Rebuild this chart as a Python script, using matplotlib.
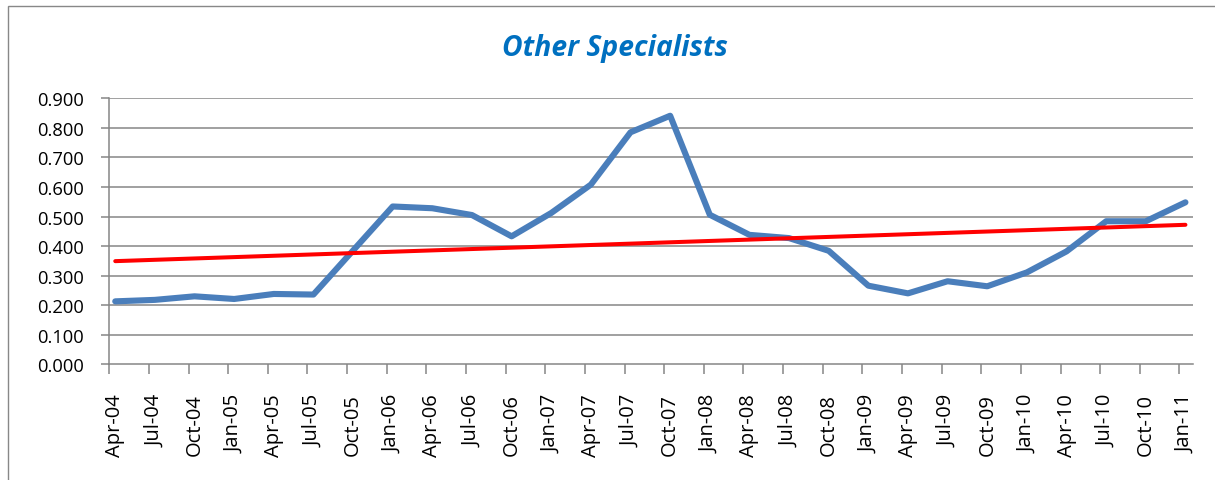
import matplotlib
matplotlib.use("Agg")
import matplotlib.pyplot as plt
from matplotlib.patches import Rectangle
import numpy as np

title = "Other Specialists"
categories = ["Apr-04", "Jul-04", "Oct-04", "Jan-05", "Apr-05", "Jul-05", "Oct-05",
              "Jan-06", "Apr-06", "Jul-06", "Oct-06", "Jan-07", "Apr-07", "Jul-07",
              "Oct-07", "Jan-08", "Apr-08", "Jul-08", "Oct-08", "Jan-09", "Apr-09",
              "Jul-09", "Oct-09", "Jan-10", "Apr-10", "Jul-10", "Oct-10", "Jan-11"]
values = [0.213, 0.218, 0.230, 0.221, 0.238, 0.236, 0.385,
          0.534, 0.528, 0.505, 0.433, 0.512, 0.608, 0.785,
          0.841, 0.506, 0.438, 0.427, 0.384, 0.266, 0.240,
          0.281, 0.264, 0.311, 0.382, 0.484, 0.484, 0.548]
trend_start = 0.349
trend_end = 0.472
y_ticks = [0.0, 0.1, 0.2, 0.3, 0.4, 0.5, 0.6, 0.7, 0.8, 0.9]

FONT = "Open Sans"
W, H = 1215, 481
fig = plt.figure(figsize=(W / 100, H / 100), dpi=100)
fig.patch.set_facecolor("white")

# chart border
fig.patches.append(Rectangle((8 / W, -0.05), 1.2, 1 - 6.5 / H + 0.05,
                             transform=fig.transFigure, fill=False,
                             edgecolor="#888888", linewidth=1.0))

ax = fig.add_axes([109.3 / W, 1 - 365.3 / H, (1192.7 - 109.3) / W, (365.3 - 99.3) / H])

x = np.arange(len(categories))
grid_c = "#868686"
off = 0.15

for yv in y_ticks[1:]:
    ax.axhline(yv, color=grid_c, linewidth=1.1, zorder=1)

ax.plot(x, values, color="#4A7EBB", linewidth=4.4, solid_capstyle="round",
        solid_joinstyle="round", zorder=3)
ax.plot([x[0], x[-1]], [trend_start, trend_end], color="#FF0000", linewidth=2.9,
        solid_capstyle="round", zorder=4)

ax.set_xlim(-off, x[-1] - off + 1 / 3)
ax.set_ylim(0, 0.9)

# y axis
ax.set_yticks(y_ticks)
ax.set_yticklabels([f"{v:.3f}" for v in y_ticks], fontfamily=FONT, fontsize=13.2)
ax.tick_params(axis="y", length=6, width=1.1, color=grid_c, pad=12, direction="out")

# x axis: tick marks offset, labels at data positions
ax.set_xticks(x - off)
ax.set_xticklabels([])
ax.tick_params(axis="x", which="major", length=7, width=1.1, color=grid_c, direction="out")
ax.set_xticks(x, minor=True)
ax.set_xticklabels(categories, minor=True, rotation=90, fontfamily=FONT, fontsize=14.5)
ax.tick_params(axis="x", which="minor", length=0, pad=21)

for s in ["top", "right"]:
    ax.spines[s].set_visible(False)
for s in ["left", "bottom"]:
    ax.spines[s].set_color(grid_c)
    ax.spines[s].set_linewidth(1.1)

fig.text(615 / W, 1 - 56 / H, title, ha="center", va="baseline", fontfamily=FONT,
         fontsize=20.3, fontweight="bold", fontstyle="italic", color="#0070C0")

fig.savefig("out.png", dpi=100, facecolor="white")
